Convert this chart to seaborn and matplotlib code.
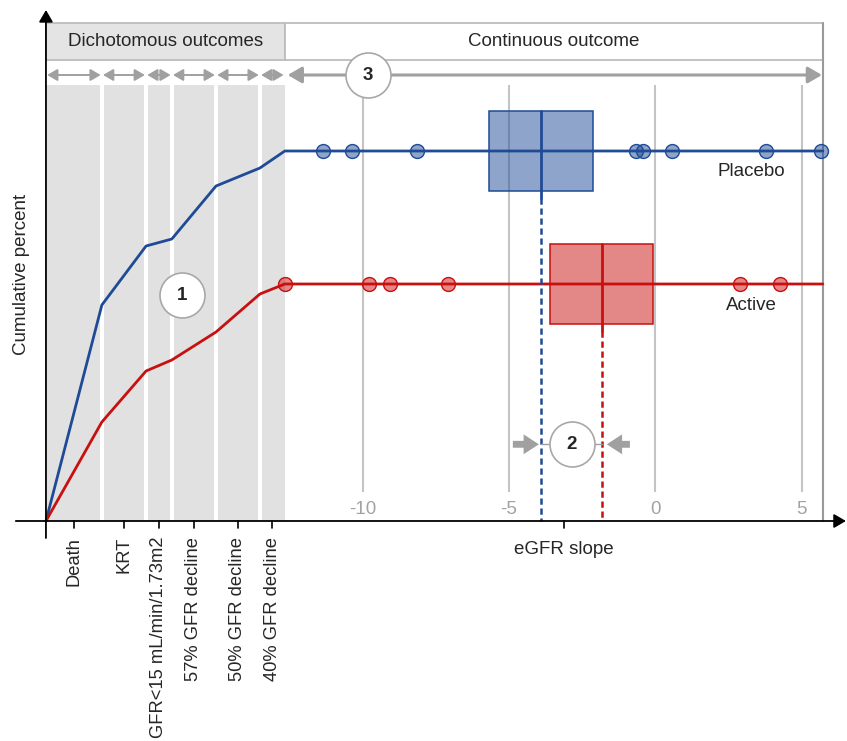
import matplotlib.pyplot as plt
from matplotlib.patches import Rectangle, FancyArrowPatch
from matplotlib.colors import to_rgba
import seaborn as sns

sns.set_style("white")
plt.rcParams["font.family"] = ["Liberation Sans", "DejaVu Sans"]
plt.rcParams["font.size"] = 13.5

# --- data -------------------------------------------------------------------
CATEGORIES = ["Death", "KRT", "GFR<15 mL/min/1.73m2",
              "57% GFR decline", "50% GFR decline", "40% GFR decline"]
# x positions (eGFR-slope units) of the dichotomous cell edges
DICHOT_EDGES = [-20.82, -18.91, -17.40, -16.52, -15.01, -13.51, -12.66]
PLACEBO_CUM = [0, 21.6, 27.5, 28.2, 33.5, 35.3, 37.0]
ACTIVE_CUM = [0, 9.9, 15.0, 16.1, 18.9, 22.7, 23.7]

PLACEBO_SLOPES = [-11.35, -10.37, -8.13, -0.67, -0.41, 0.56, 3.78, 5.66]
ACTIVE_SLOPES = [-12.65, -9.80, -9.07, -7.10, 2.89, 4.26]
PLACEBO_BOX = [-5.68, -3.91, -2.12]   # lower, median, upper
ACTIVE_BOX = [-3.60, -1.83, -0.07]
BOX_HALF = 4.0
SLOPE_TICKS = [-10, -5, 0, 5]
SLOPE_MAX = 5.72

BLUE = "#1f4b96"
RED = "#c81010"
GREY = "#a0a0a0"

# --- canvas -----------------------------------------------------------------
fig = plt.figure(figsize=(8.47, 7.41), dpi=100)
ax = fig.add_axes([0, 0, 1, 1])
ax.set_xlim(-22.39, 6.546)
ax.set_ylim(-22.0, 52.1)
ax.axis("off")

x0, xsplit = DICHOT_EDGES[0], DICHOT_EDGES[-1]
band_top = 43.6
head_lo, head_hi = 46.1, 49.77
arrow_y = 44.6

# grey bands for the dichotomous outcomes
gap = 0.07
n = len(CATEGORIES)
for i, (lo, hi) in enumerate(zip(DICHOT_EDGES[:-1], DICHOT_EDGES[1:])):
    l = lo + (gap if i > 0 else 0)
    r = hi - (gap if i < n - 1 else 0)
    ax.add_patch(Rectangle((l, 0), r - l, band_top, fc="#e1e1e1", ec="none", zorder=0))
    ax.add_patch(FancyArrowPatch((lo + 0.04, arrow_y), (hi - 0.04, arrow_y),
                                 arrowstyle="<|-|>,head_length=0.55,head_width=0.32",
                                 mutation_scale=11, color=GREY, lw=1.4,
                                 shrinkA=0, shrinkB=0, zorder=3))
    c = (lo + hi) / 2
    ax.plot([c, c], [0, -0.7], color="black", lw=1.2)
    ax.text(c, -1.6, CATEGORIES[i], rotation=90, ha="center", va="top", fontsize=13.2)

# header boxes
ax.add_patch(Rectangle((x0, head_lo), xsplit - x0, head_hi - head_lo,
                       fc="#e4e4e4", ec="#bdbdbd", lw=1.3, zorder=1))
ax.add_patch(Rectangle((xsplit, head_lo), SLOPE_MAX - xsplit, head_hi - head_lo,
                       fc="white", ec="#bdbdbd", lw=1.3, zorder=1))
ax.text((x0 + xsplit) / 2, (head_lo + head_hi) / 2, "Dichotomous outcomes",
        ha="center", va="center")
ax.text((xsplit + SLOPE_MAX) / 2, (head_lo + head_hi) / 2, "Continuous outcome",
        ha="center", va="center")
ax.add_patch(FancyArrowPatch((xsplit + 0.1, arrow_y), (SLOPE_MAX - 0.03, arrow_y),
                             arrowstyle="<|-|>,head_length=0.6,head_width=0.35",
                             mutation_scale=14, color=GREY, lw=2.2,
                             shrinkA=0, shrinkB=0, zorder=3))

# slope gridlines and labels
ax.vlines(SLOPE_TICKS, 2.9, band_top, color="#c4c4c4", lw=1.5, zorder=1)
for t in SLOPE_TICKS:
    ax.text(t, 1.2, f"{t}", ha="center", va="center", color="#a3a3a3")
ax.plot([SLOPE_MAX, SLOPE_MAX], [0, head_hi], color="#9a9a9a", lw=1.5, zorder=2)

# cumulative curves continuing flat across the slope panel
sns.lineplot(x=DICHOT_EDGES + [SLOPE_MAX], y=PLACEBO_CUM + [PLACEBO_CUM[-1]],
             color=BLUE, lw=2, sort=False, ax=ax, zorder=4)
sns.lineplot(x=DICHOT_EDGES + [SLOPE_MAX], y=ACTIVE_CUM + [ACTIVE_CUM[-1]],
             color=RED, lw=2, sort=False, ax=ax, zorder=4)

# boxes + medians
for box, level, col in [(PLACEBO_BOX, PLACEBO_CUM[-1], BLUE),
                        (ACTIVE_BOX, ACTIVE_CUM[-1], RED)]:
    lo, med, hi = box
    ax.add_patch(Rectangle((lo, level - BOX_HALF), hi - lo, 2 * BOX_HALF,
                           fc=to_rgba(col, 0.5), ec=col, lw=1.1, zorder=3))
    ax.plot([med, med], [level + BOX_HALF, level - BOX_HALF - 0.7],
            color=col, lw=2, zorder=5)
    ax.plot([med, med], [level - BOX_HALF - 0.7, 0], color=col, lw=1.8,
            ls=(0, (2.5, 1.5)), zorder=5)

# individual slopes
sns.scatterplot(x=PLACEBO_SLOPES, y=[PLACEBO_CUM[-1]] * len(PLACEBO_SLOPES),
                s=100, facecolor=to_rgba(BLUE, 0.5), edgecolor=BLUE, linewidth=1,
                ax=ax, zorder=6, legend=False)
sns.scatterplot(x=ACTIVE_SLOPES, y=[ACTIVE_CUM[-1]] * len(ACTIVE_SLOPES),
                s=100, facecolor=to_rgba(RED, 0.5), edgecolor=RED, linewidth=1,
                ax=ax, zorder=6, legend=False)

ax.text(3.27, PLACEBO_CUM[-1] - 2.1, "Placebo", ha="center", va="center")
ax.text(3.27, ACTIVE_CUM[-1] - 2.1, "Active", ha="center", va="center")

# difference in medians marker
y2 = 7.67
simple = "simple,head_length=1.0,head_width=1.3,tail_width=0.45"
ax.add_patch(FancyArrowPatch((-4.87, y2), (PLACEBO_BOX[1] - 0.07, y2),
                             arrowstyle=simple, mutation_scale=11, color=GREY,
                             lw=0, shrinkA=0, shrinkB=0, zorder=6))
ax.add_patch(FancyArrowPatch((-0.87, y2), (ACTIVE_BOX[1] + 0.17, y2),
                             arrowstyle=simple, mutation_scale=11, color=GREY,
                             lw=0, shrinkA=0, shrinkB=0, zorder=6))
ax.plot([PLACEBO_BOX[1], ACTIVE_BOX[1]], [y2, y2], color=GREY, lw=1, zorder=6)

# numbered call-outs
for (cx, cy), label in [((-16.18, 22.6), "1"), ((-2.86, y2), "2"), ((-9.81, arrow_y), "3")]:
    ax.scatter([cx], [cy], s=1050, fc="white", ec="#a8a8a8", lw=1.2, zorder=8)
    ax.text(cx, cy, label, ha="center", va="center", fontweight="bold", zorder=9)

# axes with arrow heads
ax.add_patch(FancyArrowPatch((x0, -1.7), (x0, 51.1),
                             arrowstyle="-|>,head_length=0.6,head_width=0.35",
                             mutation_scale=12, color="black", lw=1.3,
                             shrinkA=0, shrinkB=0, zorder=7))
ax.add_patch(FancyArrowPatch((-21.85, 0), (6.51, 0),
                             arrowstyle="-|>,head_length=0.6,head_width=0.35",
                             mutation_scale=12, color="black", lw=1.3,
                             shrinkA=0, shrinkB=0, zorder=7))
ax.plot([-3.13, -3.13], [0, -0.7], color="black", lw=1.2)
ax.text(-3.13, -2.9, "eGFR slope", ha="center", va="center")
ax.text(-21.65, 24.7, "Cumulative percent", rotation=90, ha="center", va="center")

fig.savefig("out.png", dpi=100)
